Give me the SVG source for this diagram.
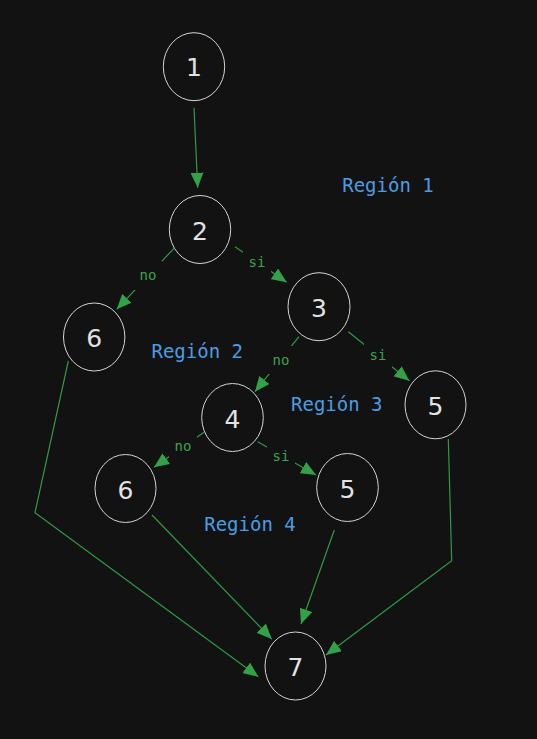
<svg xmlns="http://www.w3.org/2000/svg" width="537" height="739" viewBox="0 0 537 739">
<style>
.bg{fill:#121212}
.node ellipse{fill:#121212;stroke:#d4d4d4;stroke-width:1}
.node text{font-family:"DejaVu Sans",sans-serif;font-size:25px;fill:#e2e2e2;text-anchor:middle}
.edge{fill:none;stroke:#2f9b42;stroke-width:1.2}
.arr{stroke:#2f9b42;stroke-width:1.2;fill:none;marker-end:url(#ah)}
.lbg{fill:#121212}
.elbl{font-family:"DejaVu Sans Mono",monospace;font-size:14px;fill:#3aa34c;text-anchor:middle}
.region{font-family:"DejaVu Sans Mono",monospace;font-size:19px;fill:#4b9de2;text-anchor:middle}
</style>
<defs>
<marker id="ah" viewBox="0 0 15 13" refX="15" refY="6.5" markerWidth="15" markerHeight="13" markerUnits="userSpaceOnUse" orient="auto">
<path d="M0,0 L15,6.5 L0,13 z" fill="#33a147"/>
</marker>
</defs>
<rect class="bg" x="0" y="0" width="537" height="739"/>
<g id="connectors">
<path class="arr" d="M194,107.7 L197.7,187.7"/>
<path class="arr" d="M174,248.3 L116.7,309.3"/>
<path class="arr" d="M235,246.7 L286.7,282.3"/>
<path class="arr" d="M299,336.7 L255,391.7"/>
<path class="arr" d="M348.3,331.7 L409.3,380.7"/>
<path class="arr" d="M204,432.3 L154,467.3"/>
<path class="arr" d="M257.7,441.7 L316,475"/>
<path class="arr" d="M68.3,361 L35,512.7 L258.3,676.7"/>
<path class="arr" d="M152,515 L271.7,639"/>
<path class="arr" d="M334.3,530 L301,624"/>
<path class="arr" d="M448.3,439 L451.7,560.7 L326,655"/>
<g id="edge-labels">
<rect class="lbg" x="134" y="261" width="28" height="29"/>
<text class="elbl" x="148" y="280">no</text>
<rect class="lbg" x="243" y="248" width="28" height="26"/>
<text class="elbl" x="257" y="267">si</text>
<rect class="lbg" x="267" y="346" width="28" height="28"/>
<text class="elbl" x="281" y="365">no</text>
<rect class="lbg" x="364" y="341" width="28" height="28"/>
<text class="elbl" x="378" y="360">si</text>
<rect class="lbg" x="169" y="433" width="28" height="26"/>
<text class="elbl" x="183" y="451">no</text>
<rect class="lbg" x="267" y="443" width="28" height="26"/>
<text class="elbl" x="281" y="461">si</text>
</g>
</g>
<g id="n1" class="node"><ellipse cx="194" cy="66.7" rx="30.7" ry="34"/><text x="194" y="76">1</text></g>
<g id="n2" class="node"><ellipse cx="200" cy="229.5" rx="30.7" ry="34"/><text x="200" y="239.5">2</text></g>
<g id="n3" class="node"><ellipse cx="319" cy="306.7" rx="31" ry="34"/><text x="319" y="316.7">3</text></g>
<g id="n6a" class="node"><ellipse cx="94.2" cy="337" rx="30.7" ry="34"/><text x="94.2" y="347">6</text></g>
<g id="n4" class="node"><ellipse cx="232.5" cy="417.5" rx="30.8" ry="34"/><text x="232.5" y="427.5">4</text></g>
<g id="n5a" class="node"><ellipse cx="435.5" cy="404.8" rx="30.5" ry="34"/><text x="435.5" y="414.8">5</text></g>
<g id="n6b" class="node"><ellipse cx="125.5" cy="488.5" rx="30.5" ry="34"/><text x="125.5" y="498.5">6</text></g>
<g id="n5b" class="node"><ellipse cx="347.5" cy="487.5" rx="30.8" ry="34"/><text x="347.5" y="497.5">5</text></g>
<g id="n7" class="node"><ellipse cx="295.5" cy="666" rx="30.5" ry="34"/><text x="295.5" y="676">7</text></g>
<g id="regions">
<text class="region" x="388" y="191.5">Región 1</text>
<text class="region" x="197.2" y="358.3">Región 2</text>
<text class="region" x="336.8" y="410.7">Región 3</text>
<text class="region" x="250" y="531">Región 4</text>
</g>
</svg>
